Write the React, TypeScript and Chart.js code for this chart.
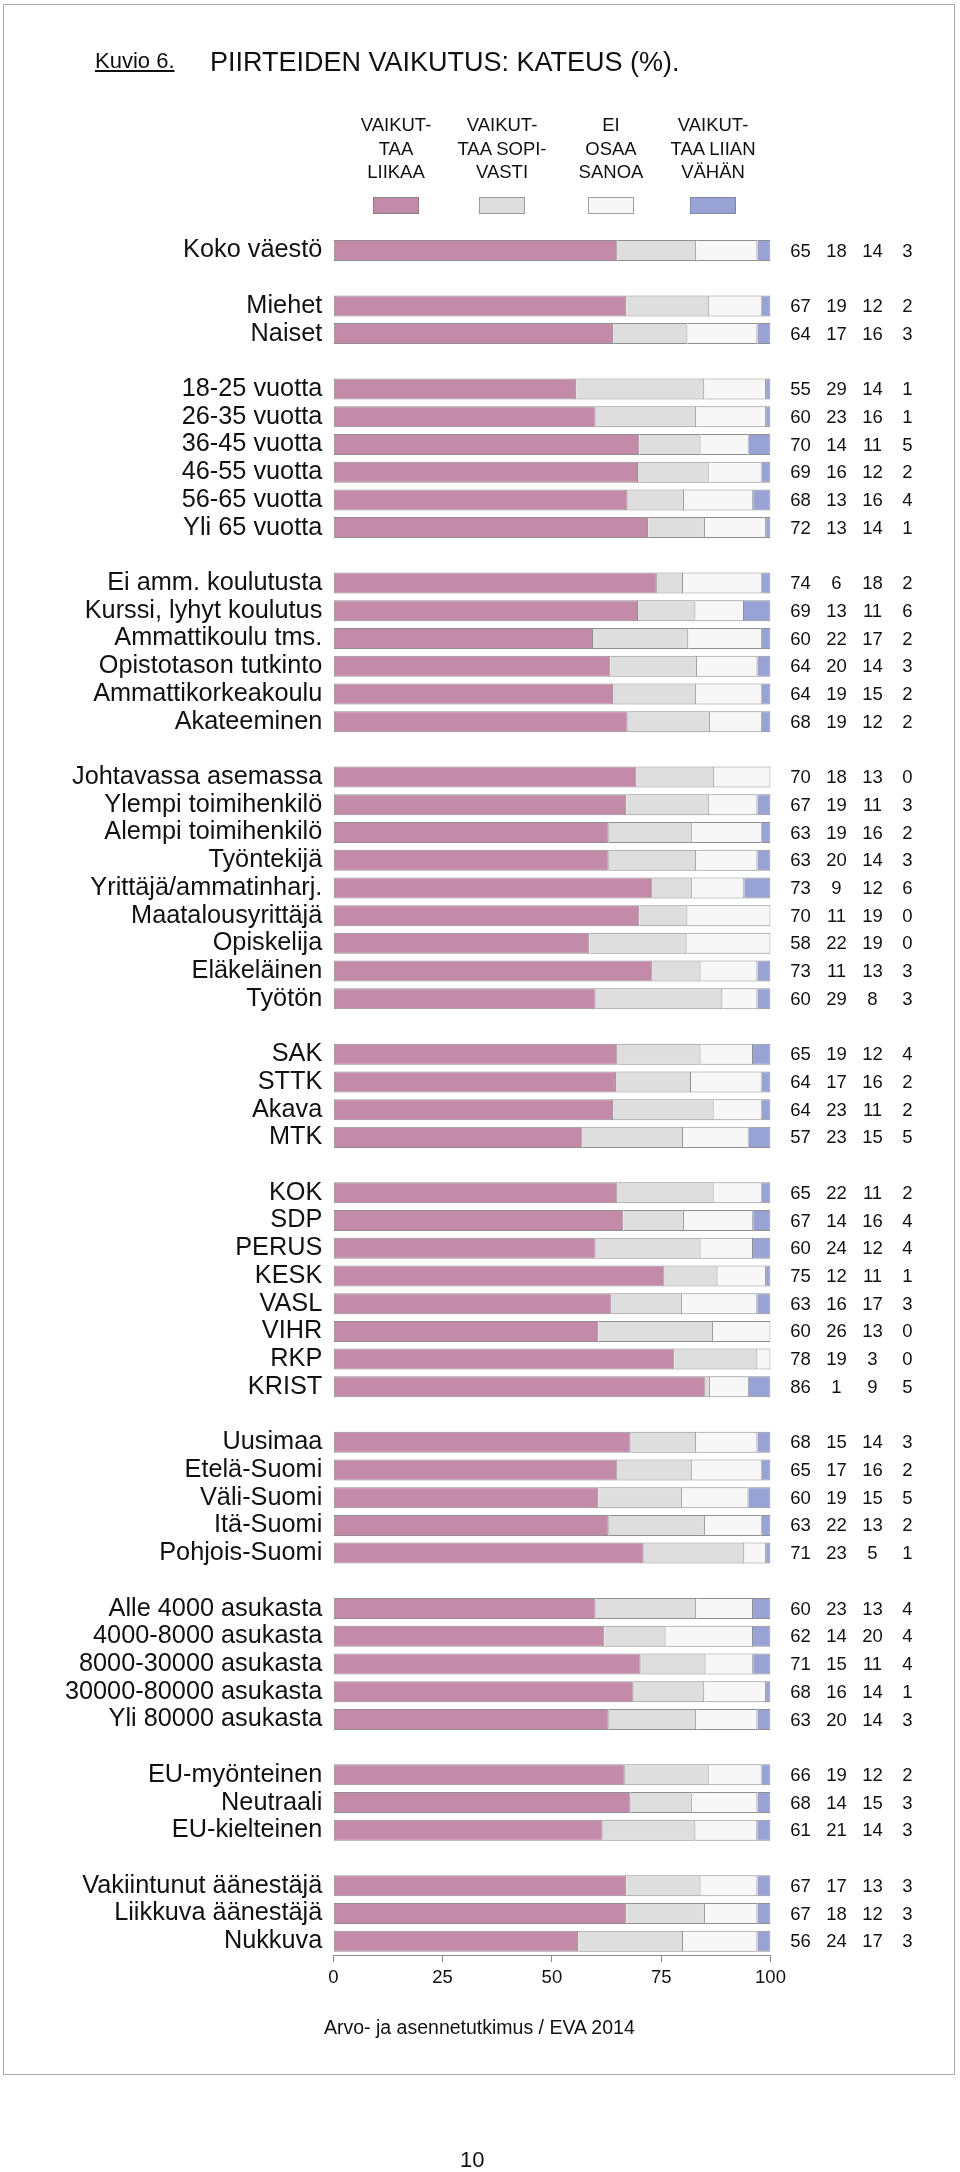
import React, { useEffect, useRef } from "react";
import { Chart, registerables } from "chart.js";

Chart.register(...registerables);

const FONT = '"Liberation Sans", Arial, Helvetica, sans-serif';

const categories: string[] = [
  "Koko väestö", "",
  "Miehet", "Naiset", "",
  "18-25 vuotta", "26-35 vuotta", "36-45 vuotta", "46-55 vuotta", "56-65 vuotta", "Yli 65 vuotta", "",
  "Ei amm. koulutusta", "Kurssi, lyhyt koulutus", "Ammattikoulu tms.", "Opistotason tutkinto", "Ammattikorkeakoulu", "Akateeminen", "",
  "Johtavassa asemassa", "Ylempi toimihenkilö", "Alempi toimihenkilö", "Työntekijä", "Yrittäjä/ammatinharj.", "Maatalousyrittäjä", "Opiskelija", "Eläkeläinen", "Työtön", "",
  "SAK", "STTK", "Akava", "MTK", "",
  "KOK", "SDP", "PERUS", "KESK", "VASL", "VIHR", "RKP", "KRIST", "",
  "Uusimaa", "Etelä-Suomi", "Väli-Suomi", "Itä-Suomi", "Pohjois-Suomi", "",
  "Alle 4000 asukasta", "4000-8000 asukasta", "8000-30000 asukasta", "30000-80000 asukasta", "Yli 80000 asukasta", "",
  "EU-myönteinen", "Neutraali", "EU-kielteinen", "",
  "Vakiintunut äänestäjä", "Liikkuva äänestäjä", "Nukkuva",
];

const N = null;
// VAIKUTTAA LIIKAA
const liikaa: (number | null)[] = [
  65, N,
  67, 64, N,
  55, 60, 70, 69, 68, 72, N,
  74, 69, 60, 64, 64, 68, N,
  70, 67, 63, 63, 73, 70, 58, 73, 60, N,
  65, 64, 64, 57, N,
  65, 67, 60, 75, 63, 60, 78, 86, N,
  68, 65, 60, 63, 71, N,
  60, 62, 71, 68, 63, N,
  66, 68, 61, N,
  67, 67, 56,
];
// VAIKUTTAA SOPIVASTI
const sopivasti: (number | null)[] = [
  18, N,
  19, 17, N,
  29, 23, 14, 16, 13, 13, N,
  6, 13, 22, 20, 19, 19, N,
  18, 19, 19, 20, 9, 11, 22, 11, 29, N,
  19, 17, 23, 23, N,
  22, 14, 24, 12, 16, 26, 19, 1, N,
  15, 17, 19, 22, 23, N,
  23, 14, 15, 16, 20, N,
  19, 14, 21, N,
  17, 18, 24,
];
// EI OSAA SANOA
const eos: (number | null)[] = [
  14, N,
  12, 16, N,
  14, 16, 11, 12, 16, 14, N,
  18, 11, 17, 14, 15, 12, N,
  13, 11, 16, 14, 12, 19, 19, 13, 8, N,
  12, 16, 11, 15, N,
  11, 16, 12, 11, 17, 13, 3, 9, N,
  14, 16, 15, 13, 5, N,
  13, 20, 11, 14, 14, N,
  12, 15, 14, N,
  13, 12, 17,
];
// VAIKUTTAA LIIAN VÄHÄN
const vahan: (number | null)[] = [
  3, N,
  2, 3, N,
  1, 1, 5, 2, 4, 1, N,
  2, 6, 2, 3, 2, 2, N,
  0, 3, 2, 3, 6, 0, 0, 3, 3, N,
  4, 2, 2, 5, N,
  2, 4, 4, 1, 3, 0, 0, 5, N,
  3, 2, 5, 2, 1, N,
  4, 4, 4, 1, 3, N,
  2, 3, 3, N,
  3, 3, 3,
];

const xTicks = [0, 25, 50, 75, 100];

const seriesNames = [
  ["VAIKUT-", "TAA", "LIIKAA"],
  ["VAIKUT-", "TAA SOPI-", "VASTI"],
  ["EI", "OSAA", "SANOA"],
  ["VAIKUT-", "TAA LIIAN", "VÄHÄN"],
];
const seriesColors = ["#C38BA7", "#DEDEDE", "#F7F7F7", "#98A2D4"];
const seriesBorders = ["#8d7f86", "#9a9a9a", "#a0a0a0", "#7f86a8"];

const allSeries = [liikaa, sopivasti, eos, vahan];

// shares of 100 % for drawing (bars always span the full width)
const shares = allSeries.map((s) =>
  s.map((v, i) => {
    if (v === null) return null;
    const tot = allSeries.reduce((a, ser) => a + (ser[i] ?? 0), 0);
    return (v / tot) * 100;
  })
);

const valueColumns = {
  id: "valueColumns",
  afterDatasetsDraw(chart: any) {
    const { ctx, chartArea, scales } = chart;
    const offs = [30, 66, 102, 137];
    ctx.save();
    ctx.font = `18.5px ${FONT}`;
    ctx.fillStyle = "#111";
    ctx.textAlign = "center";
    ctx.textBaseline = "middle";
    categories.forEach((c, i) => {
      if (!c) return;
      const y = scales.y.getPixelForValue(i);
      allSeries.forEach((ser, k) => {
        const v = ser[i];
        if (v === null) return;
        ctx.fillText(String(v), chartArea.right + offs[k], y + 1);
      });
    });
    ctx.restore();
  },
};

function BarChart() {
  const ref = useRef<HTMLCanvasElement | null>(null);
  useEffect(() => {
    const canvas = ref.current!;
    const chart = new Chart(canvas, {
      type: "bar",
      data: {
        labels: categories,
        datasets: shares.map((s, k) => ({
          label: seriesNames[k].join(" "),
          data: s,
          backgroundColor: seriesColors[k],
          borderColor: "#8f8f8f",
          borderWidth: k === 0 ? 1 : { top: 1, bottom: 1, right: 1, left: 0 },
          borderSkipped: false,
          categoryPercentage: 1,
          barPercentage: 0.758,
        })),
      },
      options: {
        indexAxis: "y",
        animation: false,
        responsive: false,
        events: [],
        layout: { padding: { left: 0, top: 236.6, right: 960 - 770.5, bottom: 2172 - 1955 - 45 } },
        plugins: { legend: { display: false }, tooltip: { enabled: false } },
        scales: {
          x: {
            stacked: true,
            min: 0,
            max: 100,
            afterBuildTicks: (s: any) => {
              s.ticks = xTicks.map((v) => ({ value: v }));
            },
            ticks: { font: { size: 18.5, family: FONT }, color: "#111", padding: 5, maxRotation: 0 },
            grid: { drawOnChartArea: false, drawTicks: true, tickLength: 7, color: "#8a8a8a" },
            border: { display: true, color: "#8a8a8a" },
            afterFit: (s: any) => {
              s.height = 45;
            },
          },
          y: {
            stacked: true,
            ticks: { font: { size: 25.3, family: FONT }, color: "#111", padding: 11, autoSkip: false },
            grid: { display: false, drawTicks: false },
            border: { display: false },
            afterFit: (s: any) => {
              s.width = 333.3;
            },
          },
        },
      },
      plugins: [valueColumns],
    } as any);
    return () => chart.destroy();
  }, []);
  return (
    <canvas
      ref={ref}
      width={960}
      height={2172}
      style={{ position: "absolute", left: 0, top: 0, width: 960, height: 2172 }}
    />
  );
}

const legendCenters = [396, 502, 611, 713];

export default function App() {
  const txt: React.CSSProperties = { position: "absolute", fontFamily: FONT, color: "#111", whiteSpace: "nowrap", lineHeight: 1 };
  return (
    <div style={{ position: "absolute", left: 0, top: 0, width: 960, height: 2172, background: "#fff", overflow: "hidden" }}>
      <div
        style={{
          position: "absolute",
          left: 3,
          top: 4,
          width: 952,
          height: 2071,
          border: "1px solid #a8a8a8",
          boxSizing: "border-box",
        }}
      />
      <BarChart />
      <div style={{ ...txt, left: 95, top: 50, fontSize: 22, textDecoration: "underline" }}>Kuvio 6.</div>
      <div style={{ ...txt, left: 210, top: 48.8, fontSize: 27 }}>PIIRTEIDEN VAIKUTUS: KATEUS (%).</div>
      {seriesNames.map((lines, k) => (
        <div
          key={k}
          style={{
            ...txt,
            left: legendCenters[k] - 70,
            width: 140,
            top: 113,
            fontSize: 18.5,
            lineHeight: "23.5px",
            textAlign: "center",
          }}
        >
          {lines.map((l, j) => (
            <div key={j}>{l}</div>
          ))}
        </div>
      ))}
      {seriesColors.map((c, k) => (
        <div
          key={k}
          style={{
            position: "absolute",
            left: legendCenters[k] - 23,
            top: 197,
            width: 46,
            height: 17,
            background: c,
            border: `1px solid ${seriesBorders[k]}`,
            boxSizing: "border-box",
          }}
        />
      ))}
      <div style={{ ...txt, left: 324, top: 2017.5, fontSize: 19.5 }}>Arvo- ja asennetutkimus / EVA 2014</div>
      <div style={{ ...txt, left: 460, top: 2149, fontSize: 22 }}>10</div>
    </div>
  );
}
